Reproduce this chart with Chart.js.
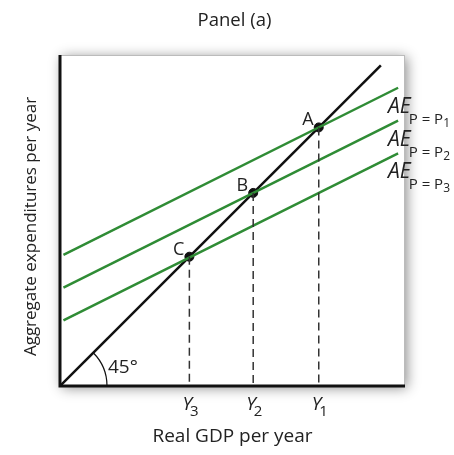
<!DOCTYPE html>
<html>
<head>
<meta charset="utf-8">
<script src="https://cdn.jsdelivr.net/npm/chart.js@4.4.1/dist/chart.umd.min.js"></script>
<style>
  html, body { margin: 0; padding: 0; background: #fff; }
</style>
</head>
<body>
<canvas id="grafico" width="454" height="455"></canvas>
<script>
// dados (unidades iguais nos dois eixos)
const linha45 = [{ x: 0, y: 0 }, { x: 93, y: 93 }];
const aeP1 = [{ x: 1, y: 38 }, { x: 98, y: 86.5 }];
const aeP2 = [{ x: 1, y: 28.5 }, { x: 98, y: 77 }];
const aeP3 = [{ x: 1, y: 19 }, { x: 98, y: 67.5 }];
const equilibrios = [{ x: 75, y: 75 }, { x: 56, y: 56 }, { x: 37.5, y: 37.5 }];
const nomesPontos = ['A', 'B', 'C'];
const rotulosY = ['1', '2', '3'];
const rotulosAE = ['1', '2', '3'];

const fonte = '"Open Sans", sans-serif';
const verde = '#2f8c35';

const tracejadas = equilibrios.map((p) => ({
    data: [{ x: p.x, y: p.y }, { x: p.x, y: 0 }],
    borderColor: '#333',
    borderWidth: 1.5,
    borderDash: [8, 5],
    pointRadius: 0,
}));

const linhasAE = [aeP1, aeP2, aeP3].map((d) => ({
    data: d,
    borderColor: verde,
    borderWidth: 2.5,
    pointRadius: 0,
}));

const moldura = {
    id: 'moldura',
    beforeDatasetsDraw(chart) {
        const { ctx, chartArea: a } = chart;
        ctx.save();
        ctx.shadowColor = 'rgba(0,0,0,0.45)';
        ctx.shadowBlur = 12;
        ctx.shadowOffsetX = 2;
        ctx.shadowOffsetY = 2;
        ctx.fillStyle = '#fff';
        ctx.fillRect(a.left, a.top, a.right - a.left, a.bottom - a.top);
        ctx.restore();
        ctx.save();
        ctx.strokeStyle = '#bbb';
        ctx.lineWidth = 1;
        ctx.strokeRect(a.left + 0.5, a.top + 0.5, a.right - a.left - 1, a.bottom - a.top - 1);
        ctx.restore();
    },
    afterDatasetsDraw(chart) {
        const { ctx, chartArea: a, scales: { x, y } } = chart;
        const x0 = x.getPixelForValue(0);
        const y0 = y.getPixelForValue(0);
        ctx.save();
        // eixos
        ctx.strokeStyle = '#111';
        ctx.lineWidth = 3;
        ctx.beginPath();
        ctx.moveTo(a.left, a.top);
        ctx.lineTo(a.left, a.bottom);
        ctx.lineTo(a.right, a.bottom);
        ctx.stroke();
        // arco de 45 graus
        ctx.lineWidth = 1.2;
        ctx.beginPath();
        ctx.arc(x0, y0, 47, -Math.PI / 4, 0);
        ctx.stroke();
        ctx.fillStyle = '#222';
        ctx.textBaseline = 'alphabetic';
        ctx.font = '19px ' + fonte;
        ctx.fillText('45°', x0 + 48, y0 - 13);

        // nomes dos pontos
        ctx.font = '18px ' + fonte;
        ctx.textAlign = 'right';
        equilibrios.forEach((p, i) => {
            ctx.fillText(nomesPontos[i], x.getPixelForValue(p.x) - 5, y.getPixelForValue(p.y) - 2);
        });

        // rótulos Y1 Y2 Y3
        ctx.textAlign = 'left';
        equilibrios.forEach((p, i) => {
            const px = x.getPixelForValue(p.x) - 7;
            ctx.font = 'italic 19px ' + fonte;
            ctx.fillText('Y', px, a.bottom + 24);
            const w = ctx.measureText('Y').width;
            ctx.font = '15px ' + fonte;
            ctx.fillText(rotulosY[i], px + w - 2, a.bottom + 30);
        });

        // rótulos AE
        [aeP1, aeP2, aeP3].forEach((d, i) => {
            const fim = d[d.length - 1];
            const px = x.getPixelForValue(fim.x) - 10;
            const py = y.getPixelForValue(fim.y) + 25;
            ctx.font = 'italic 21px ' + fonte;
            ctx.fillText('AE', px, py);
            let w = ctx.measureText('AE').width;
            ctx.font = '15px ' + fonte;
            ctx.fillText('P = P', px + w - 2, py + 11);
            const w2 = ctx.measureText('P = P').width;
            ctx.font = '12px ' + fonte;
            ctx.fillText(rotulosAE[i], px + w - 2 + w2, py + 14);
        });

        // títulos
        ctx.textAlign = 'center';
        ctx.font = '18.5px ' + fonte;
        ctx.fillText('Panel (a)', (a.left + a.right) / 2 + 2, 26);
        ctx.font = '19px ' + fonte;
        ctx.fillText('Real GDP per year', (a.left + a.right) / 2, 442);
        ctx.font = '17px ' + fonte;
        ctx.translate(36, (a.top + a.bottom) / 2 + 6);
        ctx.rotate(-Math.PI / 2);
        ctx.fillText('Aggregate expenditures per year', 0, 0);
        ctx.restore();
    }
};

const grafico = new Chart(document.getElementById('grafico'), {
    type: 'line',
    data: {
        datasets: [
            ...tracejadas,
            ...linhasAE,
            {
                data: linha45,
                borderColor: '#111',
                borderWidth: 2.5,
                pointRadius: 0,
            },
            {
                data: equilibrios,
                showLine: false,
                pointRadius: 4.5,
                pointBackgroundColor: '#111',
                pointBorderColor: '#111',
            },
        ]
    },
    options: {
        responsive: false,
        animation: false,
        devicePixelRatio: 1,
        layout: { padding: { left: 60, right: 49, top: 55, bottom: 69 } },
        plugins: { legend: { display: false }, tooltip: { enabled: false } },
        scales: {
            x: { type: 'linear', min: 0, max: 100, display: false },
            y: { type: 'linear', min: 0, max: 96, display: false },
        },
    },
    plugins: [moldura],
});
</script>
</body>
</html>
